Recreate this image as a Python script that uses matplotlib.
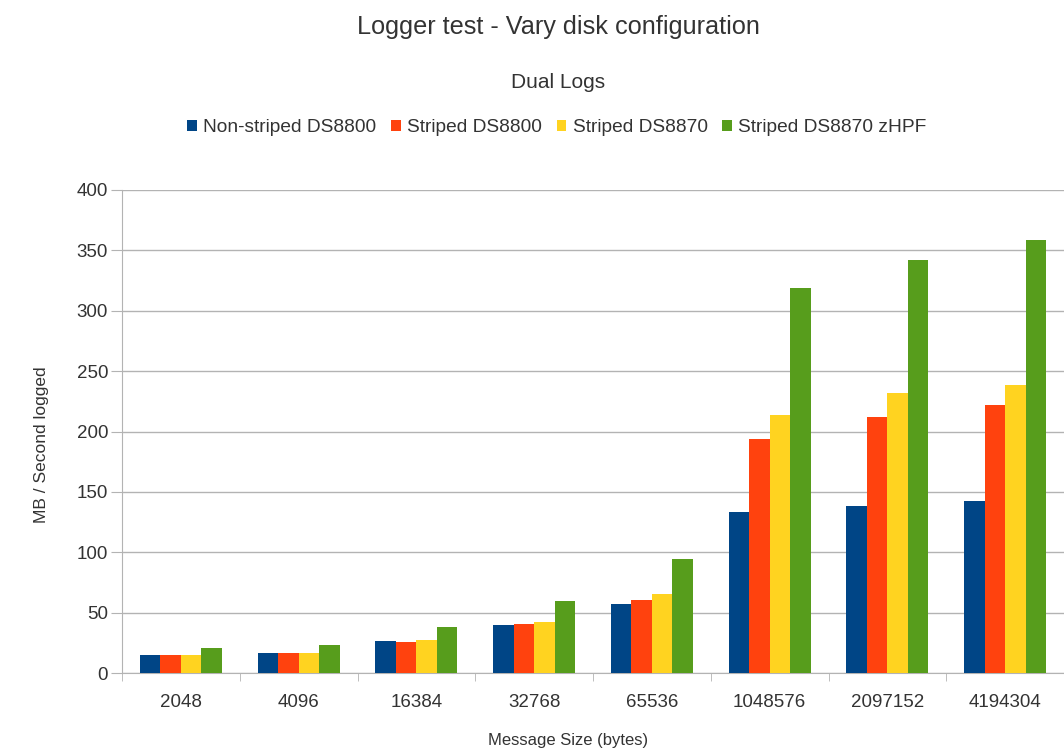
import matplotlib.pyplot as plt
import numpy as np

plt.rcParams['font.family'] = ['Liberation Sans', 'DejaVu Sans']

sizes = ['2048', '4096', '16384', '32768', '65536', '1048576', '2097152', '4194304']
series_names = ['Non-striped DS8800', 'Striped DS8800', 'Striped DS8870', 'Striped DS8870 zHPF']
non_striped_ds8800 = [15.3, 16.5, 26.5, 39.5, 57.5, 133, 138.5, 142.7]
striped_ds8800 = [15.3, 16.5, 25.8, 40.3, 60.5, 193.8, 211.7, 221.9]
striped_ds8870 = [15.0, 16.5, 27.2, 42.5, 65.8, 213.9, 231.9, 238.5]
striped_ds8870_zhpf = [20.8, 22.8, 38.0, 60.0, 94.5, 318.8, 342.3, 358.3]
colors = ['#004586', '#ff420e', '#ffd320', '#579d1c']

series = [non_striped_ds8800, striped_ds8800, striped_ds8870, striped_ds8870_zhpf]

fig = plt.figure(figsize=(10.64, 7.49), dpi=100)
ax = fig.add_axes([122 / 1064, 1 - 673 / 749, 1 - 122 / 1064, (673 - 190) / 749])

x = np.arange(len(sizes))
w = 0.174
for i, (vals, name, c) in enumerate(zip(series, series_names, colors)):
    ax.bar(x + (i - 1.5) * w, vals, width=w, color=c, label=name, zorder=3)

ax.set_ylim(0, 400)
ax.set_xlim(-0.5, 7.475)
ax.set_yticks(np.arange(0, 401, 50))
ax.yaxis.grid(True, color='#b3b3b3', linewidth=1, zorder=0)
ax.set_axisbelow(True)

# category labels centered, tick marks on the boundaries
ax.set_xticks(x)
ax.set_xticklabels(sizes)
ax.tick_params(axis='x', length=0, pad=15, labelsize=13.5, labelcolor='#333333')
ax.set_xticks(np.arange(-0.5, len(sizes), 1), minor=True)
ax.tick_params(axis='x', which='minor', length=6, color='#b3b3b3', direction='out')
ax.tick_params(axis='y', length=8, color='#b3b3b3', pad=2, labelsize=13.5, labelcolor='#333333')

for s in ['top', 'right']:
    ax.spines[s].set_visible(False)
for s in ['left', 'bottom']:
    ax.spines[s].set_color('#b3b3b3')

fig.text(42 / 1064, 1 - 445 / 749, 'MB / Second logged', ha='center', va='center',
         rotation=90, fontsize=12.5, color='#333333')
fig.text(568 / 1064, 1 - 741 / 749, 'Message Size (bytes)', ha='center', va='center',
         fontsize=12, color='#333333')

fig.text(558 / 1064, 1 - 27 / 749, 'Logger test - Vary disk configuration', ha='center',
         va='center', fontsize=18.2, color='#333333')
fig.text(558 / 1064, 1 - 83 / 749, 'Dual Logs', ha='center', va='center',
         fontsize=15, color='#333333')

fig.legend(loc='center', bbox_to_anchor=(557 / 1064, 1 - 128 / 749), ncol=4, frameon=False,
           fontsize=13.8, handlelength=0.5, handleheight=0.5, handletextpad=0.35,
           columnspacing=0.75, labelcolor='#333333')

fig.savefig('out.png', dpi=100)
